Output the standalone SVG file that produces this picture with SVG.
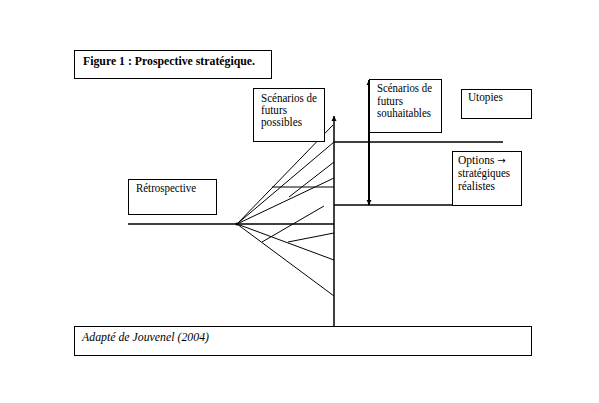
<svg xmlns="http://www.w3.org/2000/svg" width="599" height="403" viewBox="0 0 599 403">
<defs>
<marker id="ah" viewBox="0 0 10 10" refX="10" refY="5" markerWidth="5" markerHeight="6" markerUnits="userSpaceOnUse" orient="auto-start-reverse"><path d="M0,0 L10,5 L0,10 z" fill="#000"/></marker>
</defs>
<style>
.box{fill:#fff;stroke:#000;stroke-width:1}
.t{font-family:"Liberation Serif","Times New Roman","DejaVu Serif",serif;font-size:11.5px;fill:#000}
.b{font-weight:bold;font-size:12px}
.i{font-style:italic}
.thin{stroke:#000;stroke-width:1;fill:none}
.main{stroke:#000;stroke-width:1.5;fill:none}
</style>
<rect width="599" height="403" fill="#fff"/>
<g id="connectors">
<line class="main" x1="128" y1="224" x2="334" y2="224"/>
<line class="main" x1="334" y1="326" x2="334" y2="116" marker-end="url(#ah)"/>
<line class="main" x1="334" y1="142" x2="503" y2="142"/>
<line class="main" x1="334" y1="205" x2="522" y2="205"/>
<line x1="369" y1="80" x2="369" y2="205" stroke="#000" stroke-width="2" marker-start="url(#ah)" marker-end="url(#ah)"/>
<line class="thin" x1="237" y1="224" x2="333" y2="125"/>
<line class="thin" x1="237" y1="224" x2="334" y2="142"/>
<line class="thin" x1="237" y1="224" x2="334" y2="178"/>
<line class="thin" x1="237" y1="224" x2="334" y2="260"/>
<line class="thin" x1="237" y1="224" x2="334" y2="296"/>
<line class="thin" x1="272" y1="187" x2="334" y2="187"/>
<line class="thin" x1="289" y1="197" x2="334" y2="162"/>
<line class="thin" x1="262" y1="242" x2="324" y2="206"/>
<line class="thin" x1="288" y1="242" x2="334" y2="233"/>
<circle cx="237" cy="224" r="1.6" fill="#000"/>
</g>
<g id="title">
<rect class="box" x="74.5" y="50.5" width="197" height="28"/>
<text class="t b" x="83" y="65" textLength="172" lengthAdjust="spacingAndGlyphs">Figure 1 : Prospective stratégique.</text>
</g>
<g id="possibles">
<rect class="box" x="253.5" y="88.5" width="71" height="53"/>
<text class="t" x="261" y="102" textLength="56" lengthAdjust="spacingAndGlyphs">Scénarios de</text>
<text class="t" x="261" y="114" textLength="26" lengthAdjust="spacingAndGlyphs">futurs</text>
<text class="t" x="261" y="126" textLength="41" lengthAdjust="spacingAndGlyphs">possibles</text>
</g>
<g id="souhaitables">
<rect class="box" x="369.5" y="79.5" width="72" height="53"/>
<text class="t" x="377" y="92" textLength="55" lengthAdjust="spacingAndGlyphs">Scénarios de</text>
<text class="t" x="377" y="105" textLength="26" lengthAdjust="spacingAndGlyphs">futurs</text>
<text class="t" x="377" y="117" textLength="54" lengthAdjust="spacingAndGlyphs">souhaitables</text>
</g>
<g id="utopies">
<rect class="box" x="461.5" y="89.5" width="70" height="29"/>
<text class="t" x="468" y="101" textLength="35" lengthAdjust="spacingAndGlyphs">Utopies</text>
</g>
<g id="options">
<rect class="box" x="452.5" y="151.5" width="69" height="54"/>
<text class="t" x="458" y="164">Options <tspan font-family="DejaVu Sans, sans-serif" font-size="10">→</tspan></text>
<text class="t" x="458" y="177" textLength="52" lengthAdjust="spacingAndGlyphs">stratégiques</text>
<text class="t" x="458" y="190" textLength="37" lengthAdjust="spacingAndGlyphs">réalistes</text>
</g>
<g id="retrospective">
<rect class="box" x="128.5" y="179.5" width="88" height="35"/>
<text class="t" x="136" y="192" textLength="60" lengthAdjust="spacingAndGlyphs">Rétrospective</text>
</g>
<g id="source">
<rect class="box" x="74.5" y="326.5" width="457" height="29"/>
<text class="t i" x="82" y="341" textLength="127" lengthAdjust="spacingAndGlyphs">Adapté de Jouvenel (2004)</text>
</g>
</svg>
